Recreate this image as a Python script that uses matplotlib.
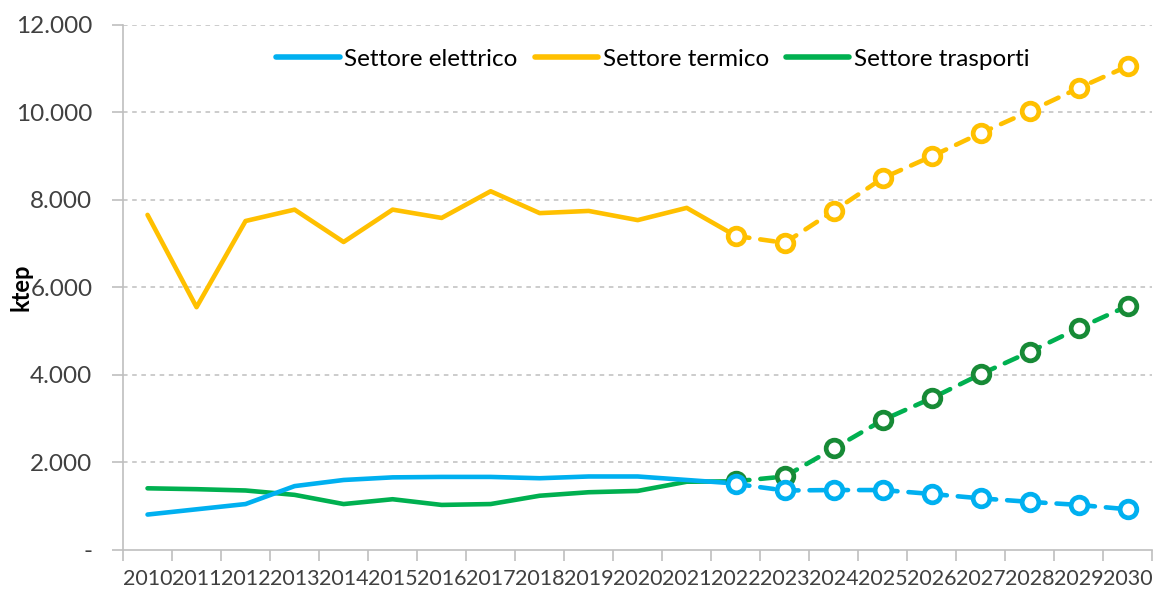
import matplotlib
matplotlib.use("Agg")
import matplotlib.pyplot as plt
from matplotlib.lines import Line2D

years = [str(y) for y in range(2010, 2031)]
hist_years = years[:13]          # 2010-2022
proj_years = years[12:]          # 2022-2030

elettrico_hist = [810, 930, 1050, 1460, 1600, 1660, 1670, 1670, 1640, 1680, 1680, 1600, 1520]
termico_hist = [7660, 5550, 7520, 7780, 7040, 7780, 7590, 8200, 7700, 7750, 7540, 7820, 7180]
trasporti_hist = [1410, 1390, 1360, 1260, 1050, 1160, 1030, 1050, 1240, 1320, 1350, 1560, 1570]

elettrico_proj = [1510, 1360, 1370, 1370, 1280, 1180, 1100, 1030, 930]
termico_proj = [7180, 7020, 7750, 8500, 9000, 9530, 10030, 10560, 11060]
trasporti_proj = [1570, 1680, 2320, 2970, 3470, 4020, 4530, 5070, 5580]

series_names = ["Settore elettrico", "Settore termico", "Settore trasporti"]
c_blue = "#00B0F0"
c_yellow = "#FFC000"
c_green = "#00B050"
c_green_dark = "#178A36"

plt.rcParams['font.family'] = ['Lato', 'DejaVu Sans']

fig = plt.figure(figsize=(11.54, 5.91), dpi=100)
ax = fig.add_axes([0.1066, 0.0694, 0.892, 0.8883])

idx = {y: i for i, y in enumerate(years)}
xh = [idx[y] for y in hist_years]
xp = [idx[y] for y in proj_years]

lw = 3.3
ax.plot(xh, termico_hist, color=c_yellow, lw=lw, zorder=3, solid_capstyle='round')
ax.plot(xh, trasporti_hist, color=c_green, lw=lw, zorder=3, solid_capstyle='round')
ax.plot(xh, elettrico_hist, color=c_blue, lw=lw, zorder=4, solid_capstyle='round')

mk = dict(marker='o', markersize=12, markerfacecolor='white', markeredgewidth=3.4,
          dashes=(3.0, 2.4), lw=lw, dash_capstyle='round')
ax.plot(xp, termico_proj, color=c_yellow, markeredgecolor=c_yellow, zorder=5, **mk)
ax.plot(xp, trasporti_proj, color=c_green, markeredgecolor=c_green_dark, zorder=5, **mk)
ax.plot(xp, elettrico_proj, color=c_blue, markeredgecolor=c_blue, zorder=6, **mk)

ax.set_xlim(-0.5, len(years) - 0.5)
ax.set_ylim(0, 12000)
ax.set_xticks(range(len(years)))
ax.set_xticklabels(years)
ax.set_xticks([i - 0.5 for i in range(len(years) + 1)], minor=True)
ax.tick_params(axis='x', which='major', length=0, pad=14, labelsize=15.5, labelcolor='#404040')
ax.tick_params(axis='x', which='minor', length=8, width=1.2, color='#BFBFBF', direction='out')

yt = list(range(0, 12001, 2000))
ax.set_yticks(yt)
ax.set_yticklabels(["-" if v == 0 else f"{v:,}".replace(",", ".") for v in yt])
ax.tick_params(axis='y', length=8, width=1.2, color='#BFBFBF', direction='out',
               labelsize=17.5, labelcolor='#404040', pad=14)

for v in yt[1:]:
    ax.axhline(v, color='#BFBFBF', lw=1.1, ls=(0, (3, 3)), zorder=1)

for s in ['top', 'right']:
    ax.spines[s].set_visible(False)
for s in ['left', 'bottom']:
    ax.spines[s].set_color('#BFBFBF')
    ax.spines[s].set_linewidth(1.2)

ax.set_ylabel("ktep", fontsize=17, fontweight='bold')
ax.yaxis.set_label_coords(-0.088, 0.5)

handles = [Line2D([], [], color=c, lw=4, solid_capstyle='round') for c in (c_blue, c_yellow, c_green)]
ax.legend(handles, series_names, loc='center', bbox_to_anchor=(0.515, 0.935), ncol=3,
          frameon=False, fontsize=17.5, handlelength=2.6, handletextpad=0.2, columnspacing=0.7)

fig.savefig("out.png", dpi=100)
